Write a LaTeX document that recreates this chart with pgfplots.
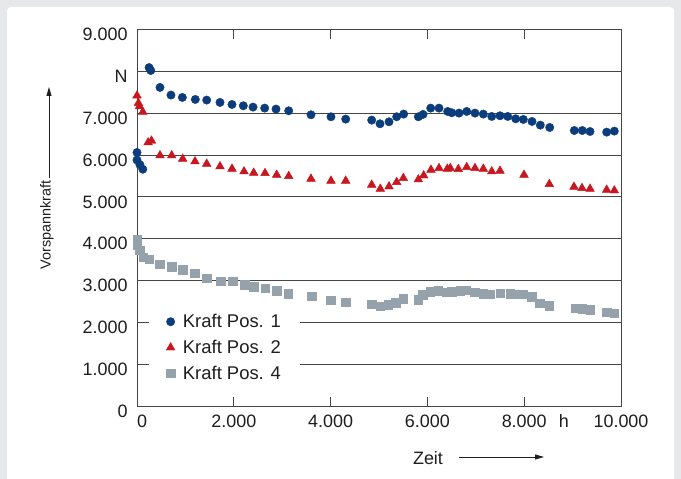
\documentclass[border=0pt]{standalone}
\usepackage{fontspec}
\setmainfont{Liberation Sans}
\usepackage{pgfplots}
\pgfplotsset{compat=1.18}
\usetikzlibrary{arrows.meta}
\definecolor{cblue}{HTML}{0B3D7C}
\definecolor{cred}{HTML}{C8171E}
\definecolor{cgrey}{HTML}{96A2AB}
\definecolor{bgg}{HTML}{E7E8E9}
\definecolor{gridc}{HTML}{454545}
\definecolor{txt}{HTML}{1E1E1E}
\begin{document}
\begin{tikzpicture}
\useasboundingbox (0bp,0bp) rectangle (681bp,479bp);
\fill[bgg] (0bp,0bp) rectangle (681bp,479bp);
\fill[white, rounded corners=4bp] (7bp,-10bp) rectangle (674bp,472bp);
\begin{axis}[
  at={(137bp,73bp)}, anchor=south west,
  scale only axis, width=484bp, height=376.5bp,
  xmin=0, xmax=10000, ymin=0, ymax=9000,
  clip=false,
  xtick={0,2000,4000,6000,8000,10000},
  xticklabels={\rlap{0},2.000,4.000,6.000,8.000,10.000},
  extra x ticks={8820}, extra x tick labels={h},
  extra x tick style={major tick length=0pt, grid=none},
  ytick={0,1000,...,9000},
  yticklabels={0,1.000,2.000,3.000,4.000,5.000,6.000,7.000,N,9.000},
  ymajorgrids,
  grid style={gridc, line width=0.9bp},
  axis line style={gridc, line width=0.9bp},
  xtick style={draw=gridc, line width=0.8bp},
  ytick style={draw=none},
  major tick length=9bp,
  ticklabel style={font=\fontsize{18}{21}\selectfont, text=txt},
  yticklabel style={yshift=-5bp, xshift=-6bp},
  xticklabel style={yshift=-5bp},
  scaled ticks=false,
  legend style={draw=none, fill=white, at={(0.025,0.26)}, anchor=north west,
    font=\fontsize{18.5}{22}\selectfont, text=txt, row sep=7bp,
    inner xsep=17bp, inner ysep=4bp, column sep=6bp},
  legend cell align=left,
]
\addplot[only marks, mark=*, mark size=4.2bp, color=cblue] coordinates {
(0,6060)(0,5880)(60,5770)(120,5660)(250,8090)(285,8020)(475,7615)(702,7433)(937,7376)(1205,7328)(1440,7313)(1715,7257)(1963,7208)(2197,7177)(2397,7145)(2638,7121)(2872,7098)(3134,7057)(3595,6962)(4008,6914)(4312,6858)(4849,6834)(5021,6746)(5207,6794)(5365,6914)(5510,6978)(5813,6914)(5909,6970)(6068,7121)(6240,7121)(6419,7041)(6502,7010)(6653,7002)(6812,7041)(6983,7002)(7155,6978)(7329,6922)(7500,6938)(7659,6922)(7824,6866)(7982,6850)(8161,6802)(8333,6714)(8527,6658)(9035,6586)(9200,6586)(9360,6562)(9704,6547)(9862,6571)
};
\addlegendentry{Kraft Pos. 1}
\addplot[only marks, mark=triangle*, mark size=5bp, color=cred] coordinates {
(0,7420)(30,7240)(50,7160)(120,7030)(230,6300)(300,6340)(475,5989)(717,5989)(944,5909)(1198,5845)(1440,5789)(1715,5726)(1963,5670)(2211,5606)(2411,5574)(2645,5566)(2886,5526)(3134,5495)(3595,5431)(4008,5383)(4312,5383)(4849,5287)(5027,5191)(5207,5247)(5365,5351)(5503,5447)(5813,5415)(5923,5510)(6074,5646)(6240,5686)(6411,5670)(6473,5686)(6639,5662)(6812,5710)(6983,5686)(7155,5670)(7329,5606)(7500,5622)(7996,5526)(8519,5303)(9029,5239)(9194,5208)(9360,5191)(9704,5167)(9862,5151)
};
\addlegendentry{Kraft Pos. 2}
\addplot[only marks, mark=square*, mark size=4.3bp, color=cgrey] coordinates {
(0,3990)(0,3850)(50,3720)(130,3560)(250,3510)(475,3390)(717,3333)(944,3254)(1198,3174)(1446,3055)(1729,2983)(1977,2983)(2225,2895)(2417,2847)(2645,2816)(2886,2758)(3120,2687)(3609,2624)(4002,2528)(4312,2481)(4849,2433)(5021,2385)(5193,2416)(5351,2464)(5496,2560)(5813,2543)(5903,2656)(6054,2735)(6225,2751)(6400,2720)(6502,2735)(6674,2751)(6800,2770)(6983,2720)(7155,2690)(7293,2672)(7500,2696)(7707,2679)(7850,2675)(7982,2672)(8155,2616)(8326,2456)(8519,2392)(9050,2337)(9200,2320)(9360,2297)(9704,2241)(9862,2218)
};
\addlegendentry{Kraft Pos. 4}
\end{axis}
\node[rotate=90, font=\fontsize{14.5}{17}\selectfont, text=txt] at (47bp,254bp) {Vorspannkraft};
\draw[txt, line width=0.8bp, -{Triangle[length=9bp,width=5bp]}] (49bp,301bp) -- (49bp,392bp);
\node[font=\fontsize{18}{21}\selectfont, text=txt] at (428bp,21bp) {Zeit};
\draw[txt, line width=0.8bp, -{Triangle[length=9bp,width=5bp]}] (459bp,22bp) -- (544bp,22bp);
\end{tikzpicture}
\end{document}
